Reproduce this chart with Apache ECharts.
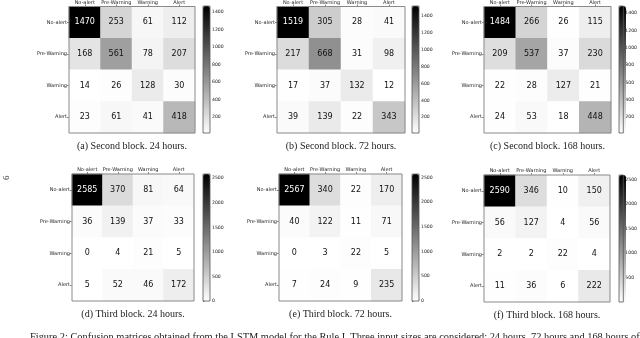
<!DOCTYPE html>
<html>
<head>
<meta charset="utf-8">
<script src="https://cdn.jsdelivr.net/npm/echarts@6/dist/echarts.min.js"></script>
<style>
html,body{margin:0;padding:0;background:#fff;}
#chart{width:640px;height:338px;}
</style>
</head>
<body>
<div id="chart"></div>
<script>
// ---- data ----
const categories = ['No-alert', 'Pre-Warning', 'Warning', 'Alert'];
const cmA = [[1470, 253, 61, 112], [168, 561, 78, 207], [14, 26, 128, 30], [23, 61, 41, 418]];
const cmB = [[1519, 305, 28, 41], [217, 668, 31, 98], [17, 37, 132, 12], [39, 139, 22, 343]];
const cmC = [[1484, 266, 26, 115], [209, 537, 37, 230], [22, 28, 127, 21], [24, 53, 18, 448]];
const cmD = [[2585, 370, 81, 64], [36, 139, 37, 33], [0, 4, 21, 5], [5, 52, 46, 172]];
const cmE = [[2567, 340, 22, 170], [40, 122, 11, 71], [0, 3, 22, 5], [7, 24, 9, 235]];
const cmF = [[2590, 346, 10, 150], [56, 127, 4, 56], [2, 2, 22, 4], [11, 36, 6, 222]];
const captions = [
  '(a) Second block. 24 hours.', '(b) Second block. 72 hours.', '(c) Second block. 168 hours.',
  '(d) Third block. 24 hours.', '(e) Third block. 72 hours.', '(f) Third block. 168 hours.'
];
const colorbarTicksSecond = [200, 400, 600, 800, 1000, 1200, 1400];
const colorbarTicksThird = [0, 500, 1000, 1500, 2000, 2500];
const figureCaption = 'Figure 2: Confusion matrices obtained from the LSTM model for the Rule I. Three input sizes are considered: 24 hours, 72 hours and 168 hours of';
const pageNumber = '6';

// ---- layout (positions only) ----
const matrices = [cmA, cmB, cmC, cmD, cmE, cmF];
const ticksFor = [colorbarTicksSecond, colorbarTicksSecond, colorbarTicksSecond, colorbarTicksThird, colorbarTicksThird, colorbarTicksThird];
const panels = [
  {l: 69, t: 6, w: 126, h: 127, cb: 203},
  {l: 277, t: 6, w: 128, h: 127, cb: 412},
  {l: 484, t: 6, w: 127, h: 127, cb: 619},
  {l: 72, t: 174, w: 122, h: 127, cb: 203},
  {l: 279, t: 174, w: 123, h: 127, cb: 412},
  {l: 484, t: 175, w: 126, h: 127, cb: 619}
];
const cbW = 7;
const greys = ['#ffffff', '#000000'];
const frameColor = '#8a8a8a';

const grid = [], xAxis = [], yAxis = [], series = [], visualMap = [], graphic = [];

matrices.forEach(function (m, i) {
  const p = panels[i];
  const flat = [].concat.apply([], m);
  const vmin = Math.min.apply(null, flat);
  const vmax = Math.max.apply(null, flat);
  const thresh = vmax / 2;
  const data = [];
  m.forEach(function (row, r) {
    row.forEach(function (v, c) {
      data.push({value: [c, r, v], label: {color: v > thresh ? '#ffffff' : '#111111'}});
    });
  });
  const gi = grid.length;
  grid.push({left: p.l, top: p.t, width: p.w, height: p.h, show: true, borderColor: frameColor, borderWidth: 1, backgroundColor: 'transparent', z: 5});
  xAxis.push({
    gridIndex: gi, type: 'category', data: categories, position: 'top',
    axisLine: {show: false}, splitLine: {show: false},
    axisTick: {show: true, alignWithLabel: true, length: 2, lineStyle: {color: '#333', width: 0.6}},
    axisLabel: {fontSize: 5, color: '#222', margin: 1.5, fontFamily: 'DejaVu Sans', interval: 0}
  });
  yAxis.push({
    gridIndex: gi, type: 'category', data: categories, inverse: true,
    axisLine: {show: false}, splitLine: {show: false},
    axisTick: {show: true, alignWithLabel: true, length: 2, lineStyle: {color: '#333', width: 0.6}},
    axisLabel: {fontSize: 5, color: '#222', margin: 2, fontFamily: 'DejaVu Sans', interval: 0}
  });
  series.push({
    type: 'heatmap', xAxisIndex: gi, yAxisIndex: gi, data: data,
    label: {show: true, fontSize: 8, fontFamily: 'DejaVu Sans'},
    itemStyle: {borderWidth: 0},
    emphasis: {disabled: true}, silent: true
  });
  const si = series.length - 1;
  visualMap.push({
    type: 'continuous', seriesIndex: si, min: vmin, max: vmax, show: true,
    orient: 'vertical', left: p.cb, top: p.t, itemWidth: cbW, itemHeight: p.h,
    padding: 0, calculable: false, hoverLink: false, text: null,
    inRange: {color: greys}
  });
  const ci = grid.length;
  const ticks = ticksFor[i].filter(function (t) { return t >= vmin && t <= vmax; });
  grid.push({left: p.cb, top: p.t, width: cbW, height: p.h, show: true, borderColor: '#555', borderWidth: 0.8, backgroundColor: 'transparent', z: 10});
  xAxis.push({gridIndex: ci, type: 'value', show: false});
  yAxis.push({
    gridIndex: ci, type: 'value', min: vmin, max: vmax, position: 'right',
    axisLine: {show: false}, splitLine: {show: false},
    axisTick: {show: true, length: 1.5, customValues: ticks, lineStyle: {color: '#333', width: 0.6}},
    axisLabel: {show: true, fontSize: 4.6, color: '#222', margin: 2, customValues: ticks, fontFamily: 'DejaVu Sans',
      formatter: function (v) { return String(v); }}
  });
  graphic.push({
    type: 'text', x: p.l + p.w / 2, y: p.t + p.h + 8,
    style: {text: captions[i], font: '10px "Liberation Serif"', fill: '#222', textAlign: 'center'}
  });
});

graphic.push({
  type: 'text', x: 30, y: 332,
  style: {text: figureCaption, font: '10.4px "Liberation Serif"', fill: '#222'}
});
graphic.push({
  type: 'text', x: 2, y: 180, rotation: Math.PI / 2,
  style: {text: pageNumber, font: '9px "Liberation Serif"', fill: '#222'}
});

const chart = echarts.init(document.getElementById('chart'), null, {renderer: 'canvas'});
chart.setOption({
  animation: false,
  backgroundColor: '#ffffff',
  grid: grid, xAxis: xAxis, yAxis: yAxis, series: series, visualMap: visualMap, graphic: graphic
});
</script>
</body>
</html>
